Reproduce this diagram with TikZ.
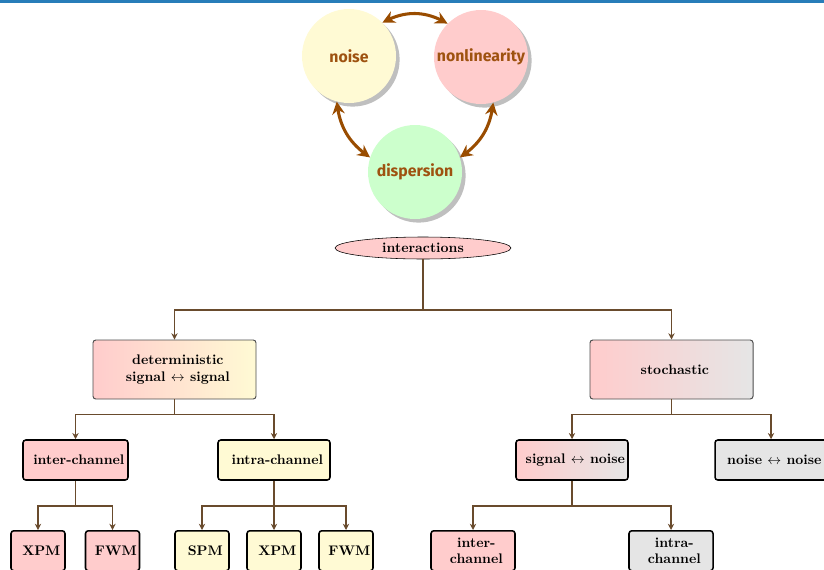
\documentclass[tikz,border=0pt]{standalone}
\usepackage{fontspec}
\newfontfamily\circfont{Fira Sans}
\usetikzlibrary{arrows.meta,shapes.geometric,shadows,bending}
\definecolor{arrbrown}{RGB}{153,76,0}
\definecolor{txtbrown}{RGB}{158,82,16}
\definecolor{treebrown}{RGB}{105,75,45}
\definecolor{topblue}{RGB}{40,125,185}
\definecolor{creamy}{RGB}{255,250,212}
\newcommand\shtxt[1]{\hspace*{2.4pt}#1\hspace*{-2.4pt}}
\tikzset{
  circ/.style={circle, minimum size={94*0.72pt}, inner sep=0pt,
    font={\circfont\bfseries\fontsize{11.4}{13}\selectfont}, text=txtbrown,
    drop shadow={shadow xshift=2.6pt, shadow yshift=-2.6pt, fill=black!25, opacity=1}},
  circarrow/.style={draw=arrbrown, line width=2.2pt,
    {Stealth[length=9pt,width=9pt,inset=3pt]}-{Stealth[length=9pt,width=9pt,inset=3pt]}},
  tree/.style={draw=treebrown, line width=1.25pt, -{Stealth[length=4.5pt,width=4.5pt]}},
  lone/.style={rectangle, rounded corners=2pt, draw=black!70, line width=0.7pt,
    minimum width={163*0.72pt}, minimum height={59*0.72pt}, font=\bfseries, align=center},
  ltwo/.style={rectangle, rounded corners=2pt, draw=black, line width=1.1pt,
    minimum height={40*0.72pt}, inner xsep=2pt, font=\bfseries},
  lthree/.style={rectangle, rounded corners=2pt, draw=black, line width=1.1pt,
    minimum width={54*0.72pt}, minimum height={40*0.72pt}, inner xsep=2pt,
    font=\bfseries, anchor=north, align=center},
}
\begin{document}
\begin{tikzpicture}[x=0.72pt, y=0.72pt]
\useasboundingbox (0,0) rectangle (824,-569);
\fill[topblue] (0,0) rectangle (824,-2.5);

% circles
\node[circ, fill=creamy] (noise) at (349,-56) {noise};
\node[circ, fill=red!20] (nonlin) at (481,-57) {nonlinearity};
\node[circ, fill=green!20] (disp) at (415,-172) {dispersion};
\draw[circarrow] (noise.45) to[bend left=30] (nonlin.135);
\draw[circarrow] (noise.255) to[bend right=25] (disp.162);
\draw[circarrow] (nonlin.285) to[bend left=25] (disp.18);

% root
\node[ellipse, draw, fill=red!20, minimum width={176*0.72pt}, minimum height={22*0.72pt},
  inner sep=0pt, font=\bfseries] (inter) at (423,-248) {interactions};

% level 1
\node[lone, left color=red!20, right color=creamy] (det) at (174.5,-369.5)
  {\shtxt{deterministic}\\\shtxt{signal $\leftrightarrow$ signal}};
\node[lone, left color=red!20, right color=black!10] (sto) at (671.5,-369.5) {\shtxt{stochastic}};

% level 2
\node[ltwo, fill=red!20, minimum width={105*0.72pt}] (interc) at (75.5,-460) {\shtxt{inter-channel}};
\node[ltwo, fill=creamy, minimum width={112*0.72pt}] (intrac) at (274,-460) {\shtxt{intra-channel}};
\node[ltwo, left color=red!20, right color=black!10, minimum width={112*0.72pt}] (sn) at (572,-460) {\shtxt{signal $\leftrightarrow$ noise}};
\node[ltwo, fill=black!10, minimum width={112*0.72pt}] (nn) at (771,-460) {\shtxt{noise $\leftrightarrow$ noise}};

% level 3
\node[lthree, fill=red!20] (xpma) at (38,-530) {\shtxt{XPM}};
\node[lthree, fill=red!20] (fwma) at (112.5,-530) {\shtxt{FWM}};
\node[lthree, fill=creamy] (spm) at (202,-530) {\shtxt{SPM}};
\node[lthree, fill=creamy] (xpmb) at (274,-530) {\shtxt{XPM}};
\node[lthree, fill=creamy] (fwmb) at (346,-530) {\shtxt{FWM}};
\node[lthree, fill=red!20, minimum width={84*0.72pt}] (sni) at (473,-530) {\shtxt{inter-}\\\shtxt{channel}};
\node[lthree, fill=black!10, minimum width={84*0.72pt}] (sna) at (671,-530) {\shtxt{intra-}\\\shtxt{channel}};

% connectors
\draw[tree] (inter.south) -- ++(0,-51) -| (det.north);
\draw[tree] (inter.south) -- ++(0,-51) -| (sto.north);
\draw[tree] (det.south) -- ++(0,-15) -| (interc.north);
\draw[tree] (det.south) -- ++(0,-15) -| (intrac.north);
\draw[tree] (sto.south) -- ++(0,-15) -| (sn.north);
\draw[tree] (sto.south) -- ++(0,-15) -| (nn.north);
\draw[tree] (interc.south) -- ++(0,-25) -| (xpma.north);
\draw[tree] (interc.south) -- ++(0,-25) -| (fwma.north);
\draw[tree] (intrac.south) -- ++(0,-25) -| (spm.north);
\draw[tree] (intrac.south) -- ++(0,-25) -| (xpmb.north);
\draw[tree] (intrac.south) -- ++(0,-25) -| (fwmb.north);
\draw[tree] (sn.south) -- ++(0,-25) -| (sni.north);
\draw[tree] (sn.south) -- ++(0,-25) -| (sna.north);
\end{tikzpicture}
\end{document}
